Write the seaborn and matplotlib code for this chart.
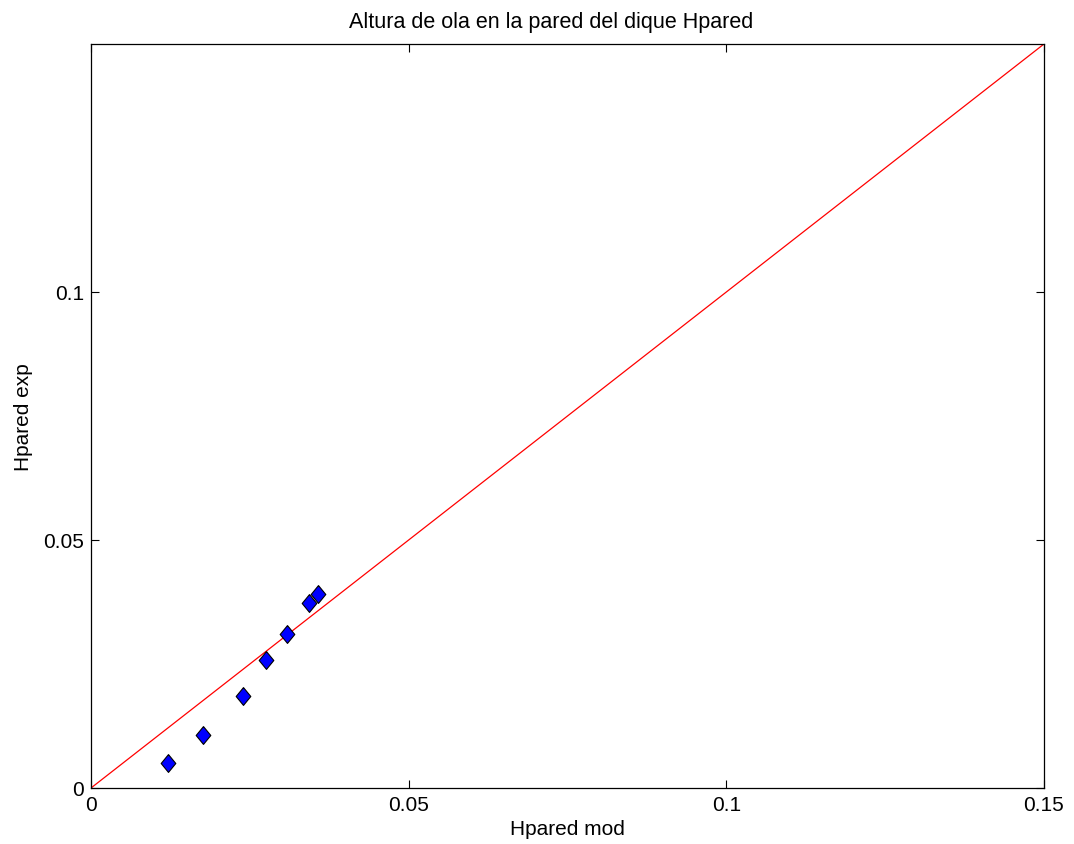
import matplotlib
matplotlib.use("Agg")
import matplotlib.pyplot as plt
import seaborn as sns
import pandas as pd

# Measured vs. modelled wave height at the breakwater wall
hpared_mod = [0.01217, 0.01758, 0.02388, 0.02755, 0.03080, 0.03436, 0.03568]
hpared_exp = [0.00498, 0.01075, 0.01849, 0.02587, 0.03105, 0.03730, 0.03905]
ref_line = [0.0, 0.15]
x_ticks = [0, 0.05, 0.1, 0.15]
y_ticks = [0, 0.05, 0.1]
x_tick_labels = ["0", "0.05", "0.1", "0.15"]
y_tick_labels = ["0", "0.05", "0.1"]

sns.set_theme(style="white")
plt.rcParams["font.family"] = ["Liberation Sans", "DejaVu Sans"]
plt.rcParams["text.color"] = "black"
plt.rcParams["axes.labelcolor"] = "black"

df = pd.DataFrame({"mod": hpared_mod, "exp": hpared_exp})
line_df = pd.DataFrame({"x": ref_line, "y": ref_line})

fig = plt.figure(figsize=(10.74, 8.45), dpi=100)
ax = fig.add_axes([91 / 1074, 56 / 845, 953 / 1074, 744 / 845])

# slightly tall diamond marker
diamond = [(0, 1), (0.82, 0), (0, -1), (-0.82, 0), (0, 1)]

sns.lineplot(data=line_df, x="x", y="y", ax=ax, color="red", linewidth=0.9)
sns.scatterplot(data=df, x="mod", y="exp", ax=ax, marker=diamond, s=165,
                color="#0000ff", edgecolor="black", linewidth=0.8, zorder=3)

ax.set_xlim(0, 0.15)
ax.set_ylim(0, 0.15)
ax.set_xticks(x_ticks)
ax.set_xticklabels(x_tick_labels)
ax.set_yticks(y_ticks)
ax.set_yticklabels(y_tick_labels)
ax.tick_params(direction="in", length=6, width=0.8, bottom=True, left=True,
               top=True, right=True, labelsize=15, colors="black", pad=5)
for s in ax.spines.values():
    s.set_visible(True)
    s.set_color("black")
    s.set_linewidth(0.9)

ax.set_xlabel("Hpared mod", fontsize=15, labelpad=4)
ax.set_ylabel("Hpared exp", fontsize=15, labelpad=7)
ax.set_title("Altura de ola en la pared del dique Hpared", fontsize=15.5,
             pad=12, x=0.483)

fig.savefig("out.png", dpi=100)
